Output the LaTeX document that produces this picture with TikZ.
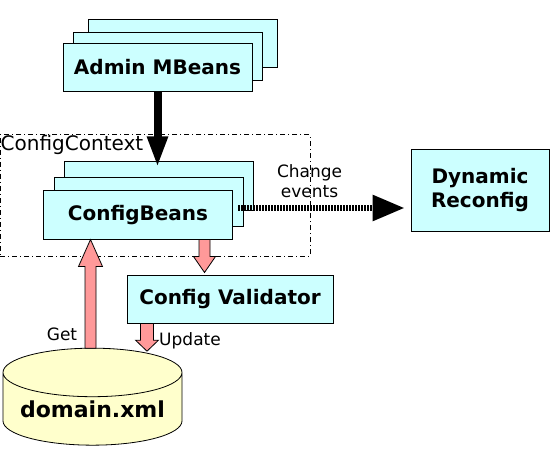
\documentclass[tikz,border=0pt]{standalone}
\usepackage{fontspec}
\setmainfont{DejaVu Sans}
\usepackage{tikz}
\usetikzlibrary{arrows.meta,shapes.geometric,calc}
\definecolor{beancyan}{HTML}{CCFFFF}
\definecolor{dbyellow}{HTML}{FFFFCC}
\definecolor{flowpink}{HTML}{FF9999}
\newcommand{\boxfont}{\fontsize{20}{24}\selectfont\bfseries}
\newcommand{\labfont}{\fontsize{17}{20}\selectfont}
\tikzset{
  box/.style={draw, fill=beancyan, line width=1pt, minimum width=189pt, minimum height=48pt, inner sep=0pt, font=\boxfont},
  ctxbox/.style={draw, line width=1pt, dash pattern=on 5pt off 3pt on 1pt off 3pt, minimum width=310pt, minimum height=121pt, inner sep=0pt},
  pinkarr/.style={draw=black, fill=flowpink, line width=0.8pt},
  labtxt/.style={font=\labfont, inner sep=1pt}
}
\begin{document}
\begin{tikzpicture}[x=1pt,y=-1pt]
    \useasboundingbox (0,0) rectangle (551,457);
    \node[ctxbox] (ctx) at (155,195.5) {};
    \node[labtxt, font=\fontsize{20}{24}\selectfont, anchor=north west] (ctxlab) at (ctx.north west) {ConfigContext};
    \node[box] (admin3) at (183.3,43.5) {};
    \node[box] (admin2) at (167.8,56.2) {};
    \node[box] (admin) at (157.5,67.5) {Admin MBeans};
    \node[box] (beans3) at (159,186) {};
    \node[box] (beans2) at (148.5,202) {};
    \node[box] (beans) at (138,215) {ConfigBeans};
    \node[box, minimum width=206pt] (val) at (230,299) {Config Validator};
    \node[box, minimum width=138pt, minimum height=81pt, align=center] (dyn) at (480,190.5) {Dynamic\\Reconfig};
    \node[cylinder, shape border rotate=90, aspect=0.335, draw, fill=dbyellow, line width=0.8pt, minimum width=179pt, minimum height=97pt, inner sep=0pt, outer sep=0pt, font=\fontsize{22}{26}\selectfont\bfseries] (db) at (92.5,409) {domain.xml};
    \draw[line width=8pt, -{Triangle[length=31pt,width=19pt]}] (admin.south) -- ([yshift=-6pt]beans3.north -| admin.south);
    \coordinate (chg) at ([shift={(5,-7)}]beans.east);
    \draw[line width=6pt, dash pattern=on 2pt off 1pt, -{Triangle[length=32pt,width=25pt]}] (chg) -- ([xshift=-6pt]chg -| dyn.west)
        node[labtxt, pos=0.43, above=6pt, align=center] (chglab) {Change\\events};
    \draw[pinkarr] let \p1=([xshift=-25.5pt]val.north), \p2=(beans.south) in
        (\x1-5.5pt,\y2) -- (\x1-5.5pt,\y1+18pt) -- (\x1-11pt,\y1+18pt) -- (\x1,\y1+2pt)
        -- (\x1+11pt,\y1+18pt) -- (\x1+5.5pt,\y1+18pt) -- (\x1+5.5pt,\y2) -- cycle;
    \draw[pinkarr] let \p1=([xshift=-47.5pt]beans.south), \p2=(db.north) in
        (\x1-5.5pt,\y2) -- (\x1-5.5pt,\y1-27pt) -- (\x1-12pt,\y1-27pt) -- (\x1,\y1)
        -- (\x1+12pt,\y1-27pt) -- (\x1+5.5pt,\y1-27pt) -- (\x1+5.5pt,\y2) -- cycle;
    \draw[pinkarr] let \p1=([xshift=-83pt]val.south), \p2=(db.north) in
        (\x1-6.5pt,\y1) -- (\x1-6.5pt,\y2+8pt) -- (\x1-11.5pt,\y2+8pt) -- (\x1,\y2-3pt)
        -- (\x1+11.5pt,\y2+8pt) -- (\x1+6.5pt,\y2+8pt) -- (\x1+6.5pt,\y1) -- cycle;
    \node[labtxt, anchor=base] (get) at (62,340) {Get};
    \node[labtxt, anchor=base] (upd) at (190,345) {Update};
\end{tikzpicture}
\end{document}
